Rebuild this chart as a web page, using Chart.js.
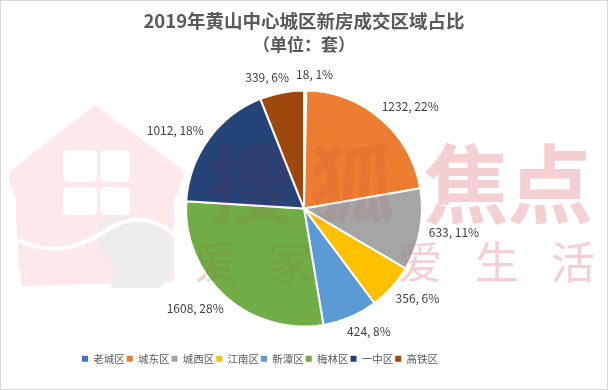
<!DOCTYPE html>
<html>
<head>
<meta charset="utf-8">
<script src="https://cdn.jsdelivr.net/npm/chart.js@4.4.1/dist/chart.umd.min.js"></script>
<style>
html,body{margin:0;padding:0;background:#fff}
#box{width:608px;height:390px}
</style>
</head>
<body>
<div id="box"><canvas id="chart" width="608" height="390"></canvas></div>
<script>
let areas=["老城区","城东区","城西区","江南区","新潭区","梅林区","一中区","高铁区"]
let counts=[18,1232,633,356,424,1608,1012,339]
let pcts=[1,22,11,6,8,28,18,6]
let colors=["#4472C4","#ED7D31","#A5A5A5","#FFC000","#5B9BD5","#70AD47","#264478","#9E480E"]

const FONT="'Noto Sans CJK SC','Noto Sans',sans-serif"

function house(ctx){
ctx.save()
ctx.fillStyle="#fde9e9"
ctx.beginPath()
ctx.moveTo(95,105)
ctx.lineTo(180,168)
ctx.quadraticCurveTo(186,174,182,182)
ctx.lineTo(174,200)
ctx.lineTo(174,282)
ctx.lineTo(22,286)
ctx.quadraticCurveTo(16,250,16,200)
ctx.lineTo(10,182)
ctx.quadraticCurveTo(7,173,14,168)
ctx.closePath()
ctx.fill()
ctx.fillStyle="#fff"
;[[63,150,34,32],[100,150,30,32],[63,187,34,28],[100,187,30,28]].forEach(w=>{
ctx.beginPath()
ctx.roundRect(w[0],w[1],w[2],w[3],5)
ctx.fill()
})
ctx.fillStyle="#ededed"
ctx.beginPath()
ctx.moveTo(100,222)
ctx.quadraticCurveTo(150,205,172,240)
ctx.quadraticCurveTo(178,270,160,288)
ctx.lineTo(110,288)
ctx.quadraticCurveTo(122,265,100,250)
ctx.closePath()
ctx.fill()
ctx.strokeStyle="#fff"
ctx.lineWidth=4
ctx.beginPath()
ctx.moveTo(18,240)
ctx.quadraticCurveTo(60,262,110,228)
ctx.quadraticCurveTo(145,208,176,236)
ctx.stroke()
ctx.restore()
}

function marks(ctx,alpha,color){
ctx.save()
ctx.globalAlpha=alpha
ctx.fillStyle=color
ctx.textAlign="center"
ctx.textBaseline="middle"
ctx.font="bold 86px "+FONT
;[["搜",250],["狐",352],["焦",466],["点",550]].forEach(c=>ctx.fillText(c[0],c[1],184))
ctx.font="44px "+FONT
;[["爱",217],["家",290],["爱",420],["生",497],["活",573]].forEach(c=>ctx.fillText(c[0],c[1],262))
ctx.restore()
}

const watermark={
id:"watermark",
afterLayout(chart){
// legend sits left of centre in the original
chart.legend.left-=44
chart.legend.right-=44
},
beforeDatasetsDraw(chart){
const ctx=chart.ctx
house(ctx)
marks(ctx,1,"#fce2e4")
},
afterDatasetsDraw(chart){
marks(chart.ctx,0.09,"#b0202a")
}
}

const pieLabels={
id:"pieLabels",
afterDraw(chart){
const ctx=chart.ctx
const meta=chart.getDatasetMeta(0)
ctx.save()
ctx.font="12px "+FONT
ctx.fillStyle="#404040"
ctx.textAlign="center"
ctx.textBaseline="middle"
meta.data.forEach((arc,i)=>{
const p=arc.getProps(["x","y","startAngle","endAngle","outerRadius"],true)
const a=(p.startAngle+p.endAngle)/2
const t=counts[i]+", "+pcts[i]+"%"
const w=ctx.measureText(t).width
const h=14
const r=p.outerRadius+9
const c=Math.cos(a),s=Math.sin(a)
const cx=p.x+c*r+w/2*(Math.sign(c)*0.5+c*0.5)
const cy=p.y+s*r+s*h/2
ctx.fillText(t,cx,cy)
})
ctx.strokeStyle="#d9d9d9"
ctx.lineWidth=1
ctx.strokeRect(0.5,0.5,chart.width-1,chart.height-1)
ctx.restore()
}
}

new Chart(document.getElementById("chart"),{
type:"pie",
data:{
labels:areas,
datasets:[{
data:counts,
backgroundColor:colors,
borderColor:"#fff",
borderWidth:2,
radius:118
}]
},
options:{
responsive:false,
animation:false,
layout:{padding:{bottom:16}},
plugins:{
title:{
display:true,
text:"2019年黄山中心城区新房成交区域占比",
color:"#595959",
font:{family:FONT,size:18.5,weight:"bold"},
padding:{top:10,bottom:2}
},
subtitle:{
display:true,
text:"（单位：套）",
color:"#595959",
font:{family:FONT,size:17,weight:"bold"},
padding:{top:0,bottom:11}
},
legend:{
position:"bottom",
labels:{
boxWidth:6,
boxHeight:6,
padding:2,
color:"#595959",
font:{family:FONT,size:10.5},
generateLabels:()=>areas.map((t,i)=>({text:t,fillStyle:colors[i],strokeStyle:colors[i],lineWidth:0,hidden:false,index:i,fontColor:"#595959"}))
}
},
tooltip:{enabled:false}
}
},
plugins:[watermark,pieLabels]
})
</script>
</body>
</html>
